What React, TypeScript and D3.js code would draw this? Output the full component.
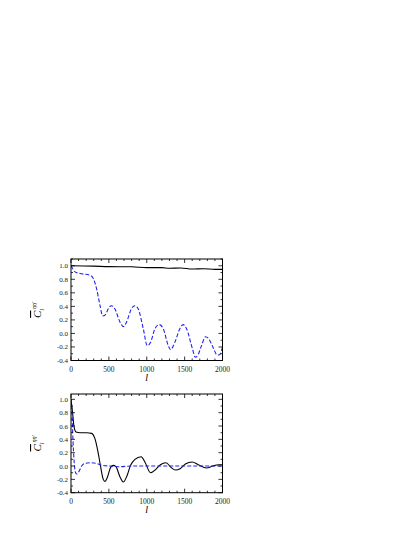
import React from "react";
import * as d3 from "d3";

const topBlackL = [0, 300, 500, 800, 1000, 1200, 1300, 1450, 1600, 1750, 1900, 2000];
const topBlackV = [1.0, 0.995, 0.987, 0.985, 0.972, 0.972, 0.963, 0.967, 0.952, 0.957, 0.946, 0.946];

const topBlueL = [0, 20, 53, 119, 250, 295, 338, 382, 418, 448, 505, 536, 580, 646, 690, 734, 800, 844, 888, 954, 1007, 1051, 1108, 1165, 1218, 1284, 1314, 1371, 1437, 1481, 1525, 1604, 1640, 1670, 1723, 1776, 1811, 1877, 1930, 1965, 2000];
const topBlueV = [1.0, 0.96, 0.91, 0.886, 0.86, 0.81, 0.66, 0.42, 0.26, 0.27, 0.39, 0.41, 0.36, 0.17, 0.10, 0.17, 0.37, 0.41, 0.36, 0.07, -0.18, -0.13, 0.07, 0.13, 0.07, -0.18, -0.24, -0.13, 0.07, 0.13, 0.07, -0.23, -0.35, -0.33, -0.18, -0.05, -0.07, -0.21, -0.32, -0.31, -0.2];

const botBlackL = [0, 22, 40, 66, 119, 207, 272, 316, 360, 391, 426, 448, 483, 523, 558, 593, 646, 690, 734, 787, 844, 925, 980, 1050, 1120, 1180, 1255, 1320, 1380, 1440, 1510, 1600, 1680, 1790, 1870, 1950, 2000];
const botBlackV = [1.0, 0.79, 0.59, 0.51, 0.50, 0.50, 0.49, 0.41, 0.19, -0.01, -0.20, -0.23, -0.16, -0.02, 0.01, -0.01, -0.16, -0.24, -0.16, 0.01, 0.10, 0.14, 0.05, -0.10, -0.05, 0.02, 0.05, -0.02, -0.06, -0.04, 0.03, 0.06, 0.02, -0.03, 0.0, 0.02, 0.02];

const botBlueL = [0, 13, 26, 40, 57, 75, 101, 141, 185, 251, 338, 404, 514, 624, 800, 1000, 1200, 1400, 1600, 1800, 2000];
const botBlueV = [1.0, 0.79, 0.39, 0.09, -0.09, -0.12, -0.09, 0.0, 0.04, 0.05, 0.04, 0.01, 0.0, -0.01, 0.0, 0.0, 0.0, 0.0, 0.0, 0.0, 0.0];

const xMajor = [0, 500, 1000, 1500, 2000];
const yMajor = [1.0, 0.8, 0.6, 0.4, 0.2, 0.0, -0.2, -0.4];

const FONT = "'Liberation Serif', 'DejaVu Serif', serif";

function Panel({ top, bottom, yMax, black, blue }: any) {
  const left = 71, right = 222.5;
  const x = d3.scaleLinear().domain([0, 2000]).range([left, right]);
  const y = d3.scaleLinear().domain([-0.4, yMax]).range([bottom, top]);
  const line = d3.line<[number, number]>().x(d => x(d[0])).y(d => y(d[1])).curve(d3.curveMonotoneX);
  const xMinor = d3.range(0, 2001, 100);
  const yMinor = d3.range(-4, Math.floor(yMax * 10 + 0.001) + 1).map(v => v / 10);
  const isMajorX = (v: number) => v % 500 === 0;
  const isMajorY = (v: number) => Math.abs(Math.round(v * 10)) % 2 === 0;
  return (
    <g>
      <defs>
        <clipPath id={`clip${top}`}><rect x={left} y={top} width={right - left} height={bottom - top} /></clipPath>
      </defs>
      <g clipPath={`url(#clip${top})`}>
        <path d={line(black[0].map((l: number, i: number) => [l, black[1][i]]))!} fill="none" stroke="#000" strokeWidth={1.1} />
        <path d={line(blue[0].map((l: number, i: number) => [l, blue[1][i]]))!} fill="none" stroke="#2222ee" strokeWidth={1.1} strokeDasharray="4,2" />
      </g>
      <rect x={left} y={top} width={right - left} height={bottom - top} fill="none" stroke="#000" strokeWidth={1} />
      {xMinor.map(v => {
        const len = isMajorX(v) ? 4 : 2;
        return (
          <g key={"x" + v}>
            <line x1={x(v)} x2={x(v)} y1={bottom} y2={bottom - len} stroke="#000" strokeWidth={0.8} />
            <line x1={x(v)} x2={x(v)} y1={top} y2={top + len} stroke="#000" strokeWidth={0.8} />
          </g>
        );
      })}
      {yMinor.map(v => {
        const len = isMajorY(v) ? 4 : 2;
        return (
          <g key={"y" + v}>
            <line x1={left} x2={left + len} y1={y(v)} y2={y(v)} stroke="#000" strokeWidth={0.8} />
            <line x1={right} x2={right - len} y1={y(v)} y2={y(v)} stroke="#000" strokeWidth={0.8} />
          </g>
        );
      })}
      {xMajor.map(v => (
        <text key={"xl" + v} x={x(v)} y={bottom + 11} fontSize={7.5} fontFamily={FONT} textAnchor="middle" fill="#222">{v}</text>
      ))}
      {yMajor.map(v => (
        <text key={"yl" + v} x={left - 3} y={y(v) + 2.5} fontSize={7} fontFamily={FONT} textAnchor="end" fill="#222">{v.toFixed(1)}</text>
      ))}
      <text x={(left + right) / 2} y={bottom + 20.5} fontSize={10} fontFamily={FONT} fontStyle="italic" textAnchor="middle">l</text>
      <g transform={`translate(${left - 30}, ${(top + bottom) / 2}) rotate(-90)`}>
        <text x={0} y={0} fontSize={11} fontFamily={FONT} textAnchor="middle" fontStyle="italic">
          <tspan textDecoration="overline">C</tspan>
          <tspan fontSize={6} dy={2.5}>l</tspan>
          <tspan fontSize={6} dy={-8}>ηη'</tspan>
        </text>
      </g>
    </g>
  );
}

export default function App() {
  return (
    <svg width={415} height={537} style={{ position: "absolute", left: 0, top: 0, background: "#fff" }}>
      <Panel top={259} bottom={360.5} yMax={1.1} black={[topBlackL, topBlackV]} blue={[topBlueL, topBlueV]} />
      <Panel top={394} bottom={492.7} yMax={1.08} black={[botBlackL, botBlackV]} blue={[botBlueL, botBlueV]} />
    </svg>
  );
}
